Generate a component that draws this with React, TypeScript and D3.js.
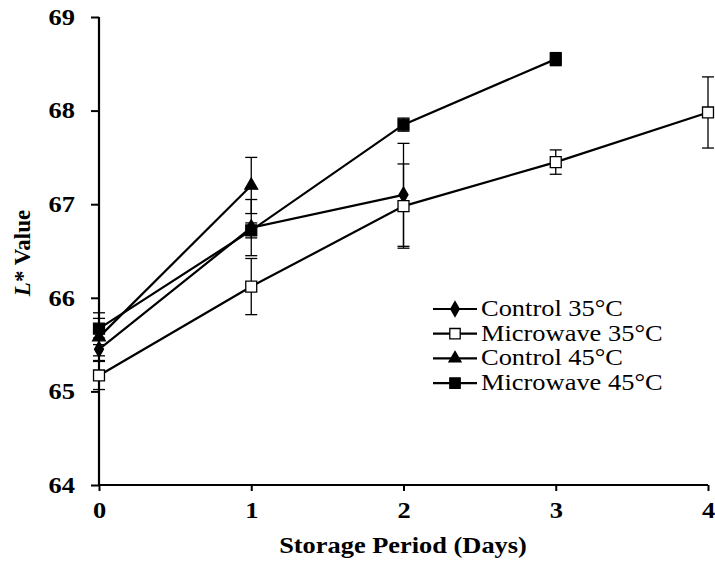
import React, { useEffect, useRef } from 'react';
import * as d3 from 'd3';

// data
const days = [0, 1, 2, 3, 4];
const yTicks = [64, 65, 66, 67, 68, 69];

const control35 = [65.45, 66.75, 67.1];
const control35Err = [0.12, 0.3, 0.55];
const microwave35 = [65.17, 66.12, 66.98, 67.45, 67.98];
const microwave35Err = [0.15, 0.3, 0.45, 0.13, 0.38];
const control45 = [65.58, 67.2];
const control45Err = [0.2, 0.3];
const microwave45 = [65.67, 66.72, 67.85, 68.55];
const microwave45Err = [0.17, 0.08, 0.07, 0.07];

const seriesNames = ['Control 35°C', 'Microwave 35°C', 'Control 45°C', 'Microwave 45°C'];

export default function App() {
  const ref = useRef<SVGSVGElement>(null);

  useEffect(() => {
    const width = 715, height = 561;
    const left = 99, right = 708, top = 17, bottom = 485;
    const font = '"Liberation Serif", "Times New Roman", serif';
    const sx = 1.15; // the original text is a bit wider than Liberation Serif

    const svg = d3.select(ref.current);
    svg.selectAll('*').remove();

    const x = d3.scaleLinear().domain([0, 4]).range([left, right]);
    const y = d3.scaleLinear().domain([64, 69]).range([bottom, top]);

    const series = [
      { name: seriesNames[0], vals: control35, err: control35Err, sym: d3.symbolDiamond, size: 70, fill: '#000' },
      { name: seriesNames[1], vals: microwave35, err: microwave35Err, sym: d3.symbolSquare, size: 120, fill: '#fff' },
      { name: seriesNames[2], vals: control45, err: control45Err, sym: d3.symbolTriangle, size: 70, fill: '#000' },
      { name: seriesNames[3], vals: microwave45, err: microwave45Err, sym: d3.symbolSquare, size: 120, fill: '#000' },
    ];

    // error bars
    series.forEach(s => {
      s.vals.forEach((v, i) => {
        const g = svg.append('g').attr('stroke', '#000').attr('stroke-width', 1.3);
        const hi = y(v + s.err[i]), lo = y(v - s.err[i]), cx = x(days[i]);
        g.append('line').attr('x1', cx).attr('x2', cx).attr('y1', hi).attr('y2', lo);
        g.append('line').attr('x1', cx - 6).attr('x2', cx + 6).attr('y1', hi).attr('y2', hi);
        g.append('line').attr('x1', cx - 6).attr('x2', cx + 6).attr('y1', lo).attr('y2', lo);
      });
    });

    // axes
    const yAxis = d3.axisLeft(y).tickValues(yTicks).tickSize(8).tickFormat(d3.format('d'));
    const xAxis = d3.axisBottom(x).tickValues(days).tickSize(6).tickFormat(d3.format('d'));
    const ya = svg.append('g').attr('transform', `translate(${left},0)`).call(yAxis);
    const xa = svg.append('g').attr('transform', `translate(0,${bottom})`).call(xAxis);
    [ya, xa].forEach(a => {
      a.select('.domain').attr('stroke-width', 2.2);
      a.selectAll('.tick line').attr('stroke-width', 2);
      a.selectAll('text').attr('font-family', font).attr('font-size', 23).attr('font-weight', 'bold')
        .attr('fill', '#000').attr('transform', `scale(${sx},1)`);
    });
    ya.select('.domain').attr('d', `M0,${top}V${bottom}`);
    xa.select('.domain').attr('d', `M${left},0H${right}`);
    ya.selectAll('.tick text').attr('x', -24 / sx);
    xa.selectAll('.tick text').attr('y', 33).attr('dy', null);

    // lines and markers
    const line = d3.line<number>().x((d, i) => x(days[i])).y(d => y(d));
    series.forEach(s => {
      svg.append('path').attr('d', line(s.vals)).attr('fill', 'none').attr('stroke', '#000').attr('stroke-width', 2.2);
    });
    series.forEach(s => {
      svg.selectAll(null).data(s.vals).enter().append('path')
        .attr('d', d3.symbol().type(s.sym).size(s.size)())
        .attr('transform', (d, i) => `translate(${x(days[i])},${y(d)})`)
        .attr('fill', s.fill).attr('stroke', '#000').attr('stroke-width', 1.3);
    });

    // legend
    const legend = svg.append('g').attr('transform', 'translate(433,309)');
    series.forEach((s, i) => {
      const row = legend.append('g').attr('transform', `translate(0,${i * 24.7})`);
      row.append('line').attr('x1', 0).attr('x2', 44).attr('stroke', '#000').attr('stroke-width', 2.2);
      row.append('path').attr('d', d3.symbol().type(s.sym).size(s.size * 0.9)())
        .attr('transform', 'translate(22,0)').attr('fill', s.fill).attr('stroke', '#000').attr('stroke-width', 1.3);
      row.append('text').attr('transform', `translate(48,7) scale(${sx},1)`).attr('font-family', font).attr('font-size', 23)
        .attr('fill', '#000').text(s.name);
    });

    // axis titles
    svg.append('text').attr('transform', 'translate(403,553) scale(1.1,1)').attr('text-anchor', 'middle')
      .attr('font-family', font).attr('font-size', 24).attr('font-weight', 'bold').text('Storage Period (Days)');
    const yl = svg.append('text').attr('transform', 'translate(30,253) rotate(-90)').attr('text-anchor', 'middle')
      .attr('font-family', font).attr('font-size', 23).attr('font-weight', 'bold');
    yl.append('tspan').attr('font-style', 'italic').text('L');
    yl.append('tspan').text('* Value');

    svg.attr('width', width).attr('height', height);
  }, []);

  return <svg ref={ref} style={{ position: 'absolute', left: 0, top: 0, background: '#fff' }} />;
}
